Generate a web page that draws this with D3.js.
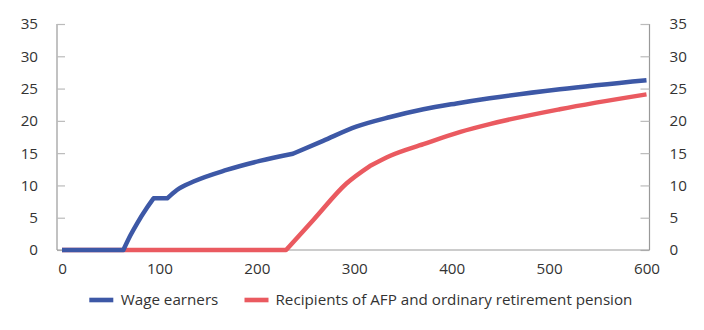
<!DOCTYPE html>
<html><head><meta charset="utf-8">
<script src="https://cdn.jsdelivr.net/npm/d3@7"></script>
<style>body{margin:0;background:#fff}svg{display:block}text{font-family:"Open Sans",sans-serif;fill:#333}</style>
</head><body><svg id="c" width="704" height="330"></svg>
<script>
const wageX = [0,63,70,77,87,94,108,118,135,169,203,237,268,302,337,371,405,439,511,600];
const wageY = [0,0,2.2,4.1,6.5,8,8,9.3,10.6,12.4,13.8,14.9,16.9,19.1,20.6,21.8,22.7,23.5,24.9,26.3];
const wageKinks = [63,94,108,237];
const afpX = [0,230,258,292,316,337,371,409,439,511,600];
const afpY = [0,0,4.65,10.3,13.0,14.6,16.4,18.3,19.5,21.8,24.1];
const afpKinks = [230,316];
const xTicks = [0,100,200,300,400,500,600];
const yTicks = [0,5,10,15,20,25,30,35];
const seriesNames = ["Wage earners","Recipients of AFP and ordinary retirement pension"];
const colors = ["#3d58a6","#ea5a60"];

const svg = d3.select("#c");
const x = d3.scaleLinear().domain([0,600]).range([62,646.5]);
const y = d3.scaleLinear().domain([0,35]).range([250,24]);
const L = 57, R = 649.5;
const FS = 15.2;

const gl = svg.append("g").attr("transform",`translate(${L},0)`)
  .call(d3.axisLeft(y).tickValues(yTicks).tickSize(-8).tickPadding(19));
gl.select(".domain").attr("d",`M0,${y(35)}V${y(0)}`);
const gr = svg.append("g").attr("transform",`translate(${R},0)`)
  .call(d3.axisRight(y).tickValues(yTicks).tickSize(-9).tickPadding(20));
gr.select(".domain").attr("d",`M0,${y(35)}V${y(0)}`);
const gb = svg.append("g").attr("transform",`translate(0,${y(0)})`)
  .call(d3.axisBottom(x).tickValues(xTicks).tickSize(0).tickPadding(13));
gb.select(".domain").attr("d",`M${L},0H${R}`);
svg.selectAll(".domain").attr("stroke","#999").attr("stroke-width",1.2);
svg.selectAll(".tick line").attr("stroke","#bbb").attr("stroke-width",1.2);
svg.selectAll(".tick text").attr("font-size",FS).attr("fill","#333").attr("font-family","'Open Sans',sans-serif");

function segPath(xs, ys, kinks){
  const pts = xs.map((v,k)=>[v,ys[k]]);
  const segs = []; let cur = [pts[0]];
  for (let k=1;k<pts.length;k++){
    cur.push(pts[k]);
    if (kinks.includes(pts[k][0]) && k<pts.length-1){ segs.push(cur); cur=[pts[k]]; }
  }
  segs.push(cur);
  const ln = d3.line().x(d=>x(d[0])).y(d=>y(d[1])).curve(d3.curveMonotoneX);
  return segs.map((s,i)=>{ const d = ln(s); return i===0?d:"L"+d.slice(1); }).join("");
}
[[afpX,afpY,afpKinks,1],[wageX,wageY,wageKinks,0]].forEach(([xs,ys,kn,i])=>{
  svg.append("path").attr("d",segPath(xs,ys,kn)).attr("fill","none").attr("stroke",colors[i])
    .attr("stroke-width",4.5).attr("stroke-linejoin","round");
});

const leg = [{x:89.3,tx:120.7},{x:244.5,tx:275.5}];
leg.forEach((p,i)=>{
  svg.append("rect").attr("x",p.x).attr("y",297.7).attr("width",24).attr("height",4.6).attr("fill",colors[i]);
  svg.append("text").attr("x",p.tx).attr("y",300).attr("dy","0.35em").attr("font-size",FS).text(seriesNames[i]);
});
</script></body></html>
